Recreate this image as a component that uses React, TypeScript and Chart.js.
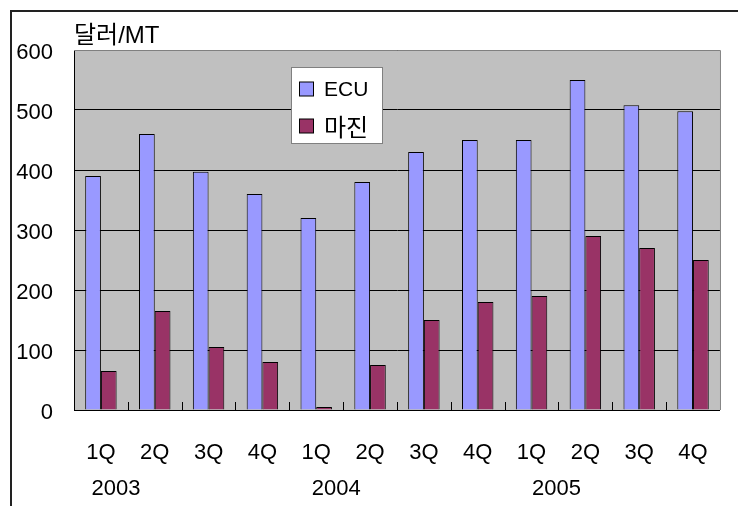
import React, { useEffect, useRef } from "react";
import { Chart, registerables } from "chart.js";

Chart.register(...registerables);

const QUARTERS = ["1Q", "2Q", "3Q", "4Q", "1Q", "2Q", "3Q", "4Q", "1Q", "2Q", "3Q", "4Q"];
const YEARS = ["2003", "2004", "2005"];
const ECU = [390, 460, 397, 360, 320, 380, 430, 450, 450, 550, 508, 498];
const MARGIN = [65, 165, 105, 80, 5, 75, 150, 180, 190, 290, 270, 250];
const SERIES_NAMES = ["ECU", "마진"];
const UNIT_LABEL = "달러/MT";

const FONT = '"Liberation Sans", "Noto Sans CJK KR", Arial, sans-serif';
const KFONT = '"Noto Sans CJK KR", "Liberation Sans", sans-serif';
const BLUE = "#9999FF";
const RED = "#993366";

const decorPlugin = {
  id: "decor",
  beforeDraw(chart: any) {
    const { ctx, chartArea } = chart;
    ctx.save();
    ctx.fillStyle = "#ffffff";
    ctx.fillRect(0, 0, chart.width, chart.height);
    ctx.fillStyle = "#C0C0C0";
    ctx.fillRect(chartArea.left, chartArea.top, chartArea.right - chartArea.left, chartArea.bottom - chartArea.top);
    ctx.strokeStyle = "#222222";
    ctx.lineWidth = 2;
    ctx.beginPath();
    ctx.moveTo(11, chart.height);
    ctx.lineTo(11, 11);
    ctx.lineTo(chart.width, 11);
    ctx.stroke();
    ctx.restore();
  },
  beforeDatasetsDraw(chart: any) {
    const { ctx, chartArea, scales } = chart;
    const x = scales.x;
    ctx.save();
    ctx.strokeStyle = "#000000";
    ctx.lineWidth = 1;
    ctx.beginPath();
    for (let i = 1; i < QUARTERS.length; i++) {
      const bx = Math.round((x.getPixelForValue(i - 1) + x.getPixelForValue(i)) / 2) + 0.5;
      ctx.moveTo(bx, chartArea.bottom);
      ctx.lineTo(bx, chartArea.bottom - 8);
    }
    ctx.stroke();
    ctx.restore();
  },
  afterDraw(chart: any) {
    const { ctx, chartArea, scales } = chart;
    const x = scales.x;
    ctx.save();
    ctx.strokeStyle = "#808080";
    ctx.lineWidth = 1;
    ctx.beginPath();
    ctx.moveTo(chartArea.left, chartArea.top + 0.5);
    ctx.lineTo(chartArea.right + 0.5, chartArea.top + 0.5);
    ctx.lineTo(chartArea.right + 0.5, chartArea.bottom);
    ctx.stroke();

    // unit title
    ctx.fillStyle = "#000000";
    ctx.font = "24px " + FONT;
    ctx.textAlign = "left";
    ctx.textBaseline = "alphabetic";
    ctx.fillText(UNIT_LABEL, chartArea.left, 43);

    // year labels
    ctx.font = "22px " + FONT;
    ctx.textAlign = "center";
    ctx.textBaseline = "middle";
    YEARS.forEach((yr, k) => {
      const px = x.getPixelForValue(k * 4) + 15 + k * 5;
      ctx.fillText(yr, px, 489);
    });

    // legend
    const lx = 291.5, ly = 67.5, lw = 91, lh = 76;
    ctx.fillStyle = "#ffffff";
    ctx.fillRect(lx, ly, lw, lh);
    ctx.strokeStyle = "#808080";
    ctx.strokeRect(lx, ly, lw, lh);
    const colors = [BLUE, RED];
    const rows = [89, 126];
    const fonts = ["21px " + FONT, "24px " + KFONT];
    SERIES_NAMES.forEach((name, i) => {
      ctx.fillStyle = colors[i];
      ctx.fillRect(299.5, rows[i] - 7, 14, 14);
      ctx.strokeStyle = "#000000";
      ctx.strokeRect(299.5, rows[i] - 7, 14, 14);
      ctx.fillStyle = "#000000";
      ctx.font = fonts[i];
      ctx.textAlign = "left";
      ctx.textBaseline = "middle";
      ctx.fillText(name, 324, rows[i] + 1);
    });
    ctx.restore();
  },
};

export default function App() {
  const ref = useRef<HTMLCanvasElement | null>(null);
  useEffect(() => {
    if (!ref.current) return;
    const chart = new Chart(ref.current, {
      type: "bar",
      data: {
        labels: QUARTERS,
        datasets: [
          { label: SERIES_NAMES[0], data: ECU, backgroundColor: BLUE, borderColor: "#000000", borderWidth: 1 },
          { label: SERIES_NAMES[1], data: MARGIN, backgroundColor: RED, borderColor: "#000000", borderWidth: 1 },
        ],
      },
      options: {
        animation: false,
        responsive: false,
        devicePixelRatio: 1,
        layout: { padding: { left: 0, top: 50, right: 7, bottom: 0 } },
        datasets: { bar: { categoryPercentage: 0.584, barPercentage: 1 } } as any,
        plugins: { legend: { display: false }, tooltip: { enabled: false }, title: { display: false } },
        scales: {
          x: {
            type: "category",
            offset: true,
            grid: { display: false, drawTicks: false },
            border: { display: true, color: "#000000", width: 1 },
            ticks: { color: "#000000", font: { family: FONT, size: 22 }, padding: 30, maxRotation: 0, autoSkip: false },
            afterFit: (s: any) => { s.height = 96; },
          },
          y: {
            min: 0,
            max: 600,
            grid: { color: "#000000", lineWidth: 1, drawTicks: false },
            border: { display: true, color: "#000000", width: 1 },
            ticks: { stepSize: 100, color: "#000000", font: { family: FONT, size: 22 }, padding: 21, labelOffset: 3 },
            afterFit: (s: any) => { s.width = 74; },
          },
        },
      },
      plugins: [decorPlugin],
    });
    return () => chart.destroy();
  }, []);
  return (
    <div style={{ position: "absolute", left: 0, top: 0, width: 738, height: 506 }}>
      <canvas ref={ref} width={738} height={506} style={{ width: 738, height: 506, display: "block" }} />
    </div>
  );
}
